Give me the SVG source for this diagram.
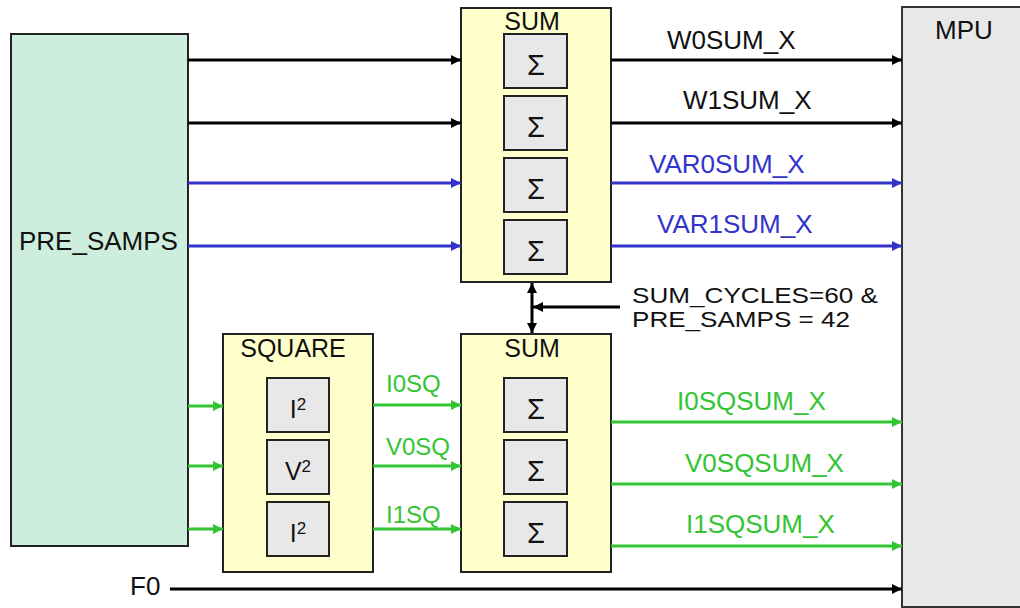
<svg xmlns="http://www.w3.org/2000/svg" width="1020" height="608" viewBox="0 0 1020 608">
<defs>
<marker id="ak" viewBox="0 0 10 10" refX="10" refY="5" markerWidth="11" markerHeight="10" markerUnits="userSpaceOnUse" orient="auto-start-reverse"><path d="M0,0 L10,5 L0,10 z" fill="#000"/></marker>
<marker id="ab" viewBox="0 0 10 10" refX="10" refY="5" markerWidth="11" markerHeight="10" markerUnits="userSpaceOnUse" orient="auto"><path d="M0,0 L10,5 L0,10 z" fill="#3333cc"/></marker>
<marker id="ag" viewBox="0 0 10 10" refX="10" refY="5" markerWidth="11" markerHeight="10" markerUnits="userSpaceOnUse" orient="auto"><path d="M0,0 L10,5 L0,10 z" fill="#33c433"/></marker>
</defs>
<style>
text{font-family:"Liberation Sans",Arial,sans-serif;font-size:26px;fill:#111}
.outer{fill:#ffffcc;stroke:#222;stroke-width:2}
.inner{fill:#e8e8e8;stroke:#222;stroke-width:2}
.k{stroke:#000;stroke-width:3;fill:none;marker-end:url(#ak)}
.b{stroke:#3333cc;stroke-width:3;fill:none;marker-end:url(#ab)}
.g{stroke:#33c433;stroke-width:3;fill:none;marker-end:url(#ag)}
.bt{fill:#3333cc}
.gt{fill:#33c433}
.sym{font-size:29px;text-anchor:middle}
.sq{font-size:25px;text-anchor:middle}
.sup{font-size:17px}
.gl{font-size:24px}
.note{font-size:22px}
</style>
<rect width="1020" height="608" fill="#fff"/>

<g id="pre_samps">
<rect x="11" y="34" width="177" height="512" fill="#cdeedd" stroke="#222" stroke-width="2"/>
<text x="19" y="250">PRE_SAMPS</text>
</g>

<g id="mpu">
<rect x="902" y="7" width="130" height="600" fill="#e8e8e8" stroke="#333" stroke-width="2"/>
<text x="935" y="39">MPU</text>
</g>

<g id="sum_top">
<rect class="outer" x="461" y="8" width="150" height="274"/>
<text x="532" y="30" text-anchor="middle" style="font-size:25px">SUM</text>
<rect class="inner" x="504" y="34" width="63" height="54"/>
<text class="sym" x="536" y="75">Σ</text>
<rect class="inner" x="504" y="96" width="63" height="54"/>
<text class="sym" x="536" y="137">Σ</text>
<rect class="inner" x="504" y="158" width="63" height="54"/>
<text class="sym" x="536" y="199">Σ</text>
<rect class="inner" x="504" y="220" width="63" height="54"/>
<text class="sym" x="536" y="261">Σ</text>
</g>

<g id="square">
<rect class="outer" x="223" y="334" width="150" height="238"/>
<text x="293" y="357" text-anchor="middle" style="font-size:25px">SQUARE</text>
<rect class="inner" x="267" y="378" width="62" height="54"/>
<text class="sq" x="298" y="418">I<tspan class="sup" dy="-8">2</tspan></text>
<rect class="inner" x="267" y="440" width="62" height="54"/>
<text class="sq" x="298" y="480">V<tspan class="sup" dy="-8">2</tspan></text>
<rect class="inner" x="267" y="502" width="62" height="54"/>
<text class="sq" x="298" y="542">I<tspan class="sup" dy="-8">2</tspan></text>
</g>

<g id="sum_bottom">
<rect class="outer" x="461" y="334" width="150" height="238"/>
<text x="532" y="357" text-anchor="middle" style="font-size:25px">SUM</text>
<rect class="inner" x="504" y="378" width="63" height="54"/>
<text class="sym" x="536" y="419">Σ</text>
<rect class="inner" x="504" y="440" width="63" height="54"/>
<text class="sym" x="536" y="481">Σ</text>
<rect class="inner" x="504" y="502" width="63" height="54"/>
<text class="sym" x="536" y="543">Σ</text>
</g>

<g id="connectors">
<line class="k" x1="188" y1="60" x2="461" y2="60"/>
<line class="k" x1="188" y1="123" x2="461" y2="123"/>
<line class="b" x1="188" y1="183" x2="461" y2="183"/>
<line class="b" x1="188" y1="246" x2="461" y2="246"/>

<line class="k" x1="611" y1="60" x2="902" y2="60"/>
<line class="k" x1="611" y1="123" x2="902" y2="123"/>
<line class="b" x1="611" y1="183" x2="902" y2="183"/>
<line class="b" x1="611" y1="246" x2="902" y2="246"/>

<line class="k" x1="532" y1="308" x2="532" y2="283"/>
<line class="k" x1="532" y1="308" x2="532" y2="333"/>
<line class="k" x1="620" y1="307" x2="533" y2="307"/>

<line class="g" x1="188" y1="406" x2="223" y2="406"/>
<line class="g" x1="188" y1="466" x2="223" y2="466"/>
<line class="g" x1="188" y1="529" x2="223" y2="529"/>

<line class="g" x1="373" y1="405" x2="461" y2="405"/>
<line class="g" x1="373" y1="466" x2="461" y2="466"/>
<line class="g" x1="373" y1="529" x2="461" y2="529"/>

<line class="g" x1="611" y1="422" x2="902" y2="422"/>
<line class="g" x1="611" y1="484" x2="902" y2="484"/>
<line class="g" x1="611" y1="546" x2="902" y2="546"/>

<line class="k" x1="170" y1="589" x2="902" y2="589"/>
</g>

<g id="labels">
<text x="667" y="49">W0SUM_X</text>
<text x="683" y="109">W1SUM_X</text>
<text class="bt" x="649" y="173">VAR0SUM_X</text>
<text class="bt" x="657" y="233">VAR1SUM_X</text>
<text class="note" x="632" y="303" textLength="246" lengthAdjust="spacingAndGlyphs">SUM_CYCLES=60 &amp;</text>
<text class="note" x="632" y="327" textLength="218" lengthAdjust="spacingAndGlyphs">PRE_SAMPS = 42</text>
<text class="gt gl" x="386" y="392">I0SQ</text>
<text class="gt gl" x="386" y="455">V0SQ</text>
<text class="gt gl" x="386" y="523">I1SQ</text>
<text class="gt" x="677" y="410">I0SQSUM_X</text>
<text class="gt" x="685" y="472">V0SQSUM_X</text>
<text class="gt" x="686" y="533">I1SQSUM_X</text>
<text x="130" y="595">F0</text>
</g>
</svg>
